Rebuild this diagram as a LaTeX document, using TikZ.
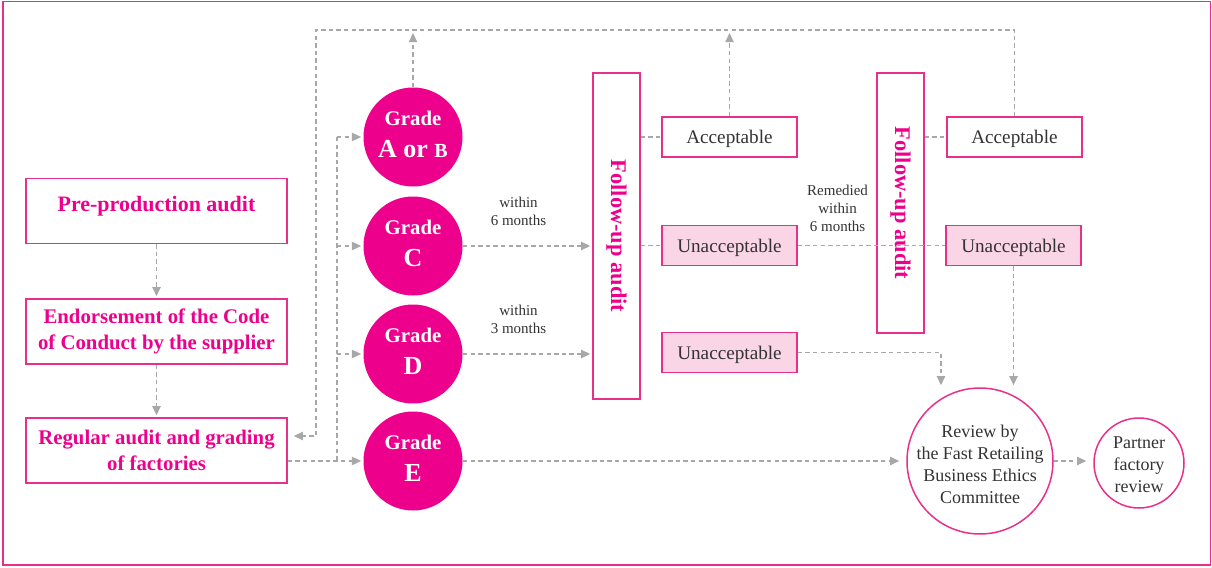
\documentclass[tikz,border=0pt]{standalone}
\usepackage{fontspec}
\setmainfont{Liberation Serif}
\usetikzlibrary{positioning, arrows.meta, calc}

\definecolor{pinkfill}{HTML}{EC008C}
\definecolor{pinkline}{HTML}{E8308A}
\definecolor{pinklight}{HTML}{F9D5E5}
\definecolor{linegray}{HTML}{A8A8A8}
\definecolor{darktext}{HTML}{333333}

\newcommand{\gradetext}[1]{{\fontsize{10.4}{12}\selectfont Grade}\\[4pt]{\fontsize{13}{15}\selectfont #1}}

\begin{document}
\begin{tikzpicture}[
    x=0.5pt, y=-0.5pt,
    % Boxes of the left-hand process column
    stage/.style={
        draw=pinkline,
        line width=0.75pt,
        rectangle,
        minimum width=130.5pt,
        minimum height=32.5pt,
        inner sep=2pt,
        text=pinkfill,
        font=\bfseries\fontsize{10.4}{12.75}\selectfont,
        align=center
    },
    grade/.style={
        circle,
        fill=pinkfill,
        minimum size=49.5pt,
        inner sep=0pt,
        text depth=3pt,
        text=white,
        font=\bfseries,
        align=center
    },
    auditbox/.style={draw=pinkline, line width=0.75pt, minimum width=23.5pt, inner sep=0pt},
    audittext/.style={rotate=-90, text=pinkfill, font=\bfseries\fontsize{11.2}{13}\selectfont},
    result/.style={
        draw=pinkline,
        line width=0.75pt,
        minimum width=67.5pt,
        minimum height=20pt,
        inner sep=1pt,
        text height=6.5pt,
        text depth=0pt,
        text=darktext,
        font=\fontsize{9.6}{11}\selectfont
    },
    fail/.style={result, fill=pinklight},
    ring/.style={draw=pinkline, line width=0.75pt, circle, inner sep=0pt},
    ringtext/.style={
        inner sep=0pt,
        text=darktext,
        align=center,
        font=\fontsize{9}{11}\selectfont
    },
    note/.style={text=darktext, align=center, font=\fontsize{7.5}{9}\selectfont, inner sep=1pt},
    % Dashed grey connectors, with and without a tip
    link/.style={draw=linegray, line width=0.55pt, dash pattern=on 2.2pt off 1.6pt},
    flow/.style={link, -{Triangle[width=4.2pt, length=4.6pt]}, shorten >=1pt}
]

    % --- Frame ---
    \useasboundingbox (0,0) rectangle (1212,568);
    \draw[pinkline, line width=0.9pt] (3,1.5) rectangle (1210.5,565);

    % --- Nodes ---
    \node[stage, text depth=7.5pt, font=\bfseries\fontsize{11}{13}\selectfont] (pre) at (156.5,211) {Pre-production audit};
    \node[stage] (endorse) at (156.5,331.5) {Endorsement of the Code\\of Conduct by the supplier};
    \node[stage] (regular) at (156.5,450.5) {Regular audit and grading\\of factories};

    \node[grade] (gradeA) at (413,137) {\gradetext{A or {\fontsize{10}{12}\selectfont B}}};
    \node[grade] (gradeC) at (413,246) {\gradetext{C}};
    \node[grade] (gradeD) at (413,354) {\gradetext{D}};
    \node[grade] (gradeE) at (413,461) {\gradetext{E}};

    \node[auditbox, minimum height=163pt] (fu1) at (616.5,236) {};
    \node[audittext] at (fu1) {Follow-up audit};
    \node[auditbox, minimum height=130pt] (fu2) at (900.5,203) {};
    \node[audittext] at (fu2) {Follow-up audit};

    \node[result] (accept1) at (729.5,137) {Acceptable};
    \node[fail] (fail1) at (729.5,245.5) {Unacceptable};
    \node[fail] (fail3) at (729.5,352.5) {Unacceptable};
    \node[result] (accept2) at (1014.5,137) {Acceptable};
    \node[fail] (fail2) at (1013.5,245.5) {Unacceptable};

    \node[ring, minimum size=73pt,
        label={[ringtext, yshift=-1.7pt]center:Review by\\the Fast Retailing\\Business Ethics\\Committee}] (review) at (980,461) {};
    \node[ring, minimum size=45pt,
        label={[ringtext, yshift=-0.9pt]center:Partner\\factory\\review}] (partner) at (1139,463) {};

    \coordinate (split) at (337,0);
    \coordinate (back) at (316,30);

    % --- Edges ---
    % Left column
    \draw[flow] (pre.south) -- (endorse.north);
    \draw[flow] (endorse.south) -- (regular.north);

    % Regular audit out to the grades
    \draw[flow] (regular.east |- gradeE) -- (gradeE.west);
    \draw[link] (split |- gradeA) -- (split |- gradeE);
    \foreach \g in {gradeA, gradeC, gradeD}
        \draw[flow] (split |- \g) -- (\g.west);

    % Acceptable results go back to regular audits
    \draw[flow, shorten >=3pt] (accept2.north) |- (back) |- ([yshift=7.25pt]regular.east);
    \draw[flow, shorten >=1.5pt] (gradeA.north) -- (gradeA.north |- back);
    \draw[flow, shorten >=1.5pt] (accept1.north) -- (accept1.north |- back);

    % Grades C and D into the first follow-up audit
    \draw[flow] (gradeC.east) -- (gradeC.east -| fu1.west)
        node[note, above=9pt, pos=0.43] {within\\6 months};
    \draw[flow] (gradeD.east) -- (gradeD.east -| fu1.west)
        node[note, above=9pt, pos=0.43] {within\\3 months};

    % Follow-up audits to their results
    \draw[link] (fu1.east |- accept1) -- (accept1.west);
    \draw[link] (fu1.east |- fail1) -- (fail1.west);
    \draw[link] (fail1.east) -- (fail2.west)
        node[note, above=5.5pt, pos=0.27] {Remedied\\within\\6 months};
    \draw[link] (fu2.east |- accept2) -- (accept2.west);

    % Into the committee review
    \draw[flow] (fail3.east) -| ([xshift=-19.5pt]review.north);
    \draw[flow] (fail2.south) -- (fail2.south |- review.north);
    \draw[flow, shorten >=3.5pt] (gradeE.east) -- (review.west);
    \draw[flow, shorten >=3.5pt] (review.east) -- (review.east -| partner.west);

\end{tikzpicture}
\end{document}
